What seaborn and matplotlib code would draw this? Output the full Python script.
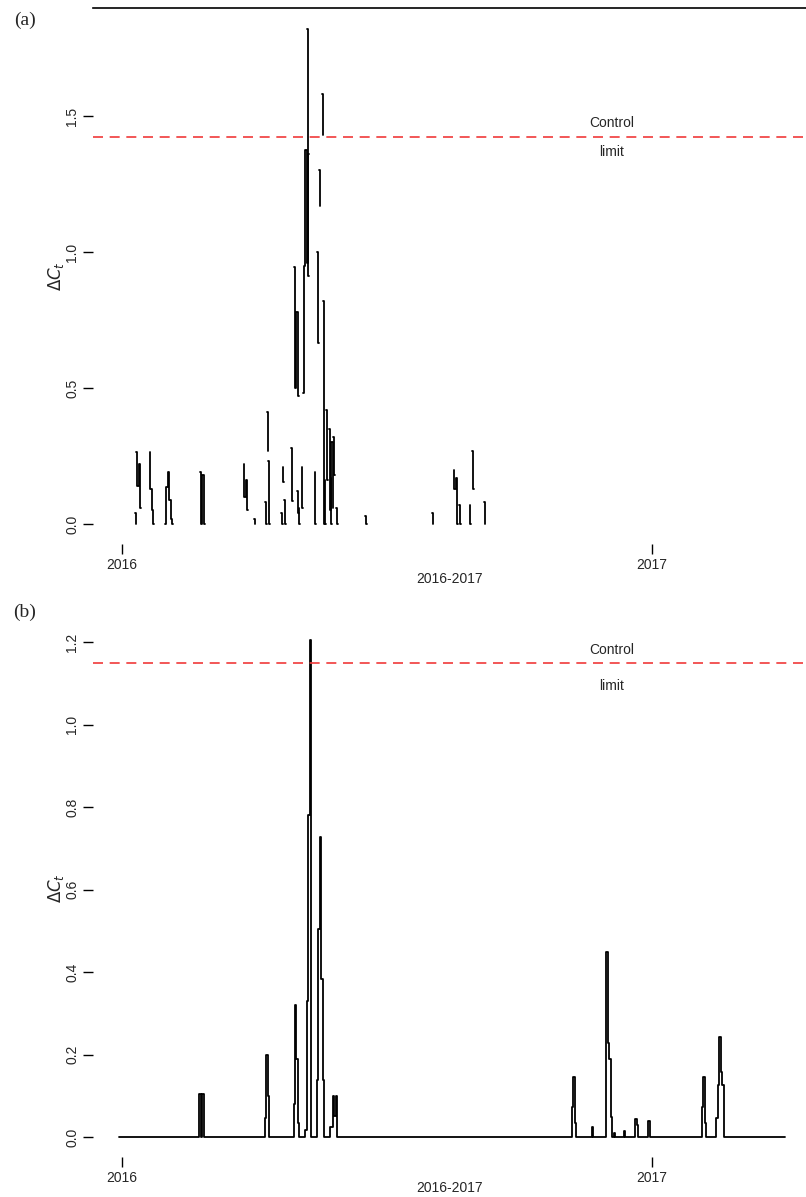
import numpy as np
import pandas as pd
import matplotlib
matplotlib.use("Agg")
import matplotlib.pyplot as plt
import seaborn as sns

BASE = pd.Timestamp("2016-01-01")

# ---------------- data ----------------
# panel (a): observed pieces (start day after 2016-01-01, consecutive daily values)
a_seg_start = [9, 10, 19, 30, 54, 84, 91, 99, 100, 101, 110, 111, 112, 117, 119,
               121, 122, 124, 125, 128, 133, 135, 136, 138, 139, 140, 141, 143,
               144, 146, 148, 168, 214, 229, 233, 240, 242, 250]
a_seg_values = [
    [0.04, 0.0], [0.265, 0.14, 0.22, 0.06], [0.265, 0.13, 0.05, 0.0],
    [0.0, 0.135, 0.19, 0.09, 0.02, 0.0], [0.19, 0.0, 0.18, 0.0],
    [0.22, 0.10, 0.16, 0.05], [0.02, 0.0], [0.08, 0.0], [0.41, 0.27],
    [0.23, 0.0], [0.04, 0.0], [0.21, 0.155], [0.09, 0.0], [0.28, 0.085],
    [0.945, 0.50, 0.78, 0.47], [0.12, 0.04], [0.06, 0.0], [0.21, 0.06],
    [0.48, 0.95, 1.375, 0.96, 1.36], [1.82, 0.91], [0.19, 0.0],
    [1.0, 0.665], [1.30, 1.17], [1.58, 1.43], [0.82, 0.0], [0.16, 0.0],
    [0.42, 0.16], [0.35, 0.05, 0.30, 0.06], [0.17, 0.0], [0.32, 0.18],
    [0.06, 0.0], [0.03, 0.0], [0.04, 0.0], [0.20, 0.13, 0.17, 0.0],
    [0.07, 0.0], [0.07, 0.0], [0.27, 0.13], [0.08, 0.0],
]
a_control_limit = 1.423

# panel (b): daily series, zero except for these days
b_first_day, b_last_day = -2, 458
b_spike_days = [54, 56, 99, 100, 101, 119, 120, 121, 122, 127, 128, 129, 130,
                135, 136, 137, 138, 139, 144, 145, 146, 147, 148, 311, 312, 313,
                325, 335, 336, 337, 338, 340, 347, 355, 356, 364, 401, 402, 403,
                411, 412, 413, 414, 415]
b_spike_vals = [0.104, 0.104, 0.046, 0.20, 0.10, 0.08, 0.32, 0.19, 0.035, 0.017,
                0.33, 0.78, 1.205, 0.138, 0.504, 0.727, 0.384, 0.138, 0.024,
                0.024, 0.10, 0.05, 0.10, 0.073, 0.145, 0.034, 0.024, 0.448,
                0.228, 0.19, 0.048, 0.01, 0.015, 0.044, 0.03, 0.04, 0.073,
                0.145, 0.034, 0.046, 0.126, 0.243, 0.158, 0.126]
b_control_limit = 1.149

x_tick_dates = ["2016-01-01", "2017-01-01"]
x_tick_labels = ["2016", "2017"]
a_yticks = [0.0, 0.5, 1.0, 1.5]
b_yticks = [0.0, 0.2, 0.4, 0.6, 0.8, 1.0, 1.2]

# ---------------- frames ----------------
rows = []
for k, (s, vals) in enumerate(zip(a_seg_start, a_seg_values)):
    for i, v in enumerate(vals):
        rows.append({"date": BASE + pd.Timedelta(days=s + i), "value": v, "seg": k})
dfa = pd.DataFrame(rows)

b_days = np.arange(b_first_day, b_last_day + 1)
b_vals = np.zeros(len(b_days))
for d, v in zip(b_spike_days, b_spike_vals):
    b_vals[d - b_first_day] = v
dfb = pd.DataFrame({"date": BASE + pd.to_timedelta(b_days, unit="D"), "value": b_vals})

# ---------------- figure ----------------
sns.set_style("white")
plt.rcParams["font.family"] = ["Liberation Sans", "DejaVu Sans"]
plt.rcParams["mathtext.fontset"] = "dejavusans"

W, H = 806, 1197
fig = plt.figure(figsize=(W / 100, H / 100), dpi=100)

px_per_day = 530 / 366.0
x0_px = 122
left_day = (93 - x0_px) / px_per_day
right_day = (W - x0_px) / px_per_day
xlim = (BASE + pd.Timedelta(days=left_day), BASE + pd.Timedelta(days=right_day))

def make_ax(top_px, bot_px):
    return fig.add_axes([93 / W, 1 - bot_px / H, 1 - 93 / W, (bot_px - top_px) / H])

ax_a = make_ax(8, 544)
ax_b = make_ax(619, 1157)

sns.lineplot(data=dfa, x="date", y="value", units="seg", estimator=None,
             color="black", lw=1.3, drawstyle="steps-mid", ax=ax_a)
sns.lineplot(data=dfb, x="date", y="value", color="black", lw=1.3,
             drawstyle="steps-mid", ax=ax_b)

tick_dates = [pd.Timestamp(t) for t in x_tick_dates]
red = "#f03a3a"
for ax, yl, yt, cl, ylab, xpad in [
    (ax_a, (-0.0735, 1.897), a_yticks, a_control_limit, r"$\Delta C_t$", 0),
    (ax_b, (-0.0485, 1.256), b_yticks, b_control_limit, r"$\Delta C_t$", -3),
]:
    ax.set_xlim(*xlim)
    ax.set_ylim(*yl)
    ax.axhline(cl, color=red, lw=1.2, ls=(0, (6, 4)))
    ax.set_yticks(yt)
    ax.set_yticklabels([f"{v:.1f}" for v in yt], rotation=90, va="center", fontsize=10)
    ax.set_xticks(tick_dates)
    ax.set_xticklabels(x_tick_labels, fontsize=10)
    ax.tick_params(axis="both", direction="out", length=7, width=1, color="black",
                   left=True, bottom=True, pad=3)
    ax.set_xlabel("2016-2017", fontsize=10, labelpad=xpad)
    ax.set_ylabel(ylab, fontsize=12, labelpad=-1)
    for sp in ax.spines.values():
        sp.set_visible(False)
    ax.grid(False)
    ax.set_facecolor("white")

ax_a.spines["top"].set_visible(True)
ax_a.spines["top"].set_color("black")
ax_a.spines["top"].set_linewidth(1.2)

# control limit annotations
lab_date = BASE + pd.Timedelta(days=(612 - x0_px) / px_per_day)
for ax, cl, dy_up, dy_dn in [(ax_a, a_control_limit, 0.05, 0.055),
                             (ax_b, b_control_limit, 0.032, 0.056)]:
    ax.text(lab_date, cl + dy_up, "Control", ha="center", va="center", fontsize=10)
    ax.text(lab_date, cl - dy_dn, "limit", ha="center", va="center", fontsize=10)

fig.text(25 / W, 1 - 20 / H, "(a)", family="Liberation Serif", fontsize=14,
         ha="center", va="center")
fig.text(25 / W, 1 - 612 / H, "(b)", family="Liberation Serif", fontsize=14,
         ha="center", va="center")

fig.savefig("out.png", dpi=100, facecolor="white")
